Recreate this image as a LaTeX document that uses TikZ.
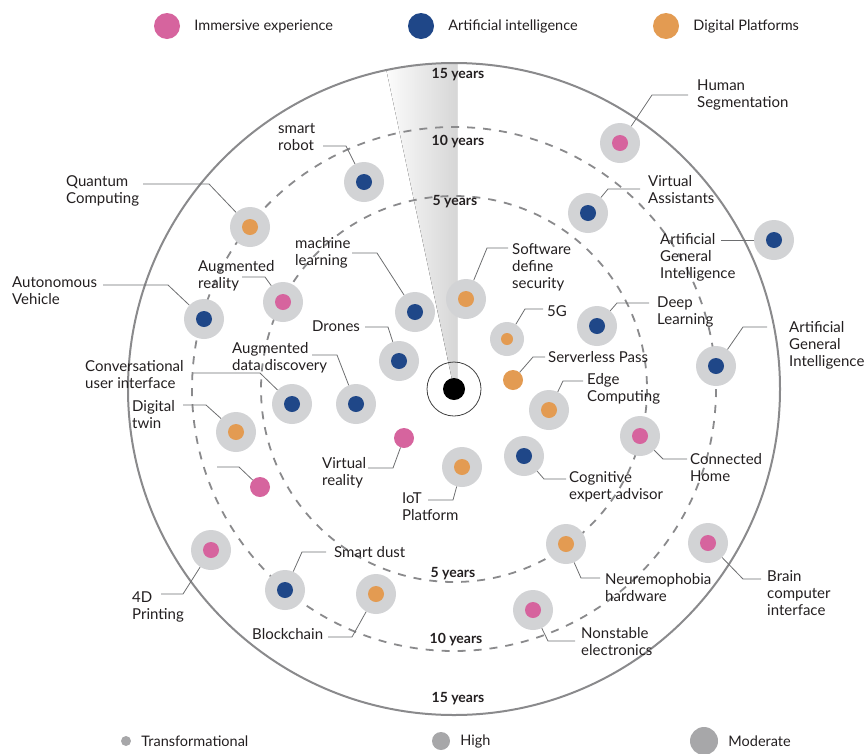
\documentclass[tikz,border=0pt]{standalone}
\usepackage{fontspec}
\setmainfont{Lato}
\usetikzlibrary{positioning}

\definecolor{immersive}{HTML}{D6649E}
\definecolor{aiblue}{HTML}{1F4788}
\definecolor{platform}{HTML}{E39B52}
\definecolor{diskgray}{HTML}{D2D3D5}
\definecolor{ringgray}{HTML}{8A8A8C}
\definecolor{leadgray}{HTML}{6D6E70}
\definecolor{sizegray}{HTML}{A7A7A9}
\definecolor{ink}{HTML}{231F20}

\tikzset{
  disk/.style={circle,fill=diskgray,minimum size=40pt,inner sep=0pt},
  lbl/.style={anchor=north west,align=left,inner sep=0pt,text=ink,font=\fontsize{15}{17}\selectfont},
  legtext/.style={inner sep=0pt,text=ink,font=\fontsize{14.5}{17}\selectfont},
  leader/.style={draw=leadgray,line width=0.8pt},
  ring/.style={draw=ringgray,line width=1.8pt,dash pattern=on 8pt off 8pt},
  yrs/.style={inner sep=1pt,text=ink,font=\bfseries\fontsize{14}{16}\selectfont},
}

\begin{document}
\begin{tikzpicture}[x=1pt,y=-1pt]
\useasboundingbox (0,0) rectangle (867,753);
\coordinate (c) at (454,389);

% time wedge
\begin{scope}
\clip (c) circle (326);
\fill[left color=white,right color=black!16] (c) -- (380,40) -- (457,40) -- (457,389) -- cycle;
\end{scope}

% horizons
\draw[draw=ringgray,line width=2pt] (c) circle (326);
\draw[ring] (c) circle (262);
\draw[ring] (c) circle (193);
\draw[black!75,line width=0.8pt] (c) circle (27);
\fill[black] (c) circle (11);

\node[yrs] (y15t) at (458,75) {15 years};
\node[yrs] (y10t) at (458,142) {10 years};
\node[yrs] (y5t) at (455,202) {5 years};
\node[yrs] (y5b) at (453,574) {5 years};
\node[yrs] (y10b) at (456,640) {10 years};
\node[yrs] (y15b) at (458,699) {15 years};

% legend
\foreach \n/\x/\c/\t in {legim/167/immersive/Immersive experience,legai/421/aiblue/Artificial intelligence,legdp/666/platform/Digital Platforms}
{
\node[circle,fill=\c,minimum size=26pt,inner sep=0pt] (\n) at (\x,26) {};
\node[legtext,right=14pt of \n] {\t};
}
\foreach \n/\x/\s/\t in {legtr/126/10/Transformational,leghi/441/18/High,legmo/704/28/Moderate}
{
\node[circle,fill=sizegray,minimum size=\s pt,inner sep=0pt] (\n) at (\x,741) {};
\node[legtext,right=10pt of \n] {\t};
}

% technologies
\foreach \n/\x/\y/\c in {hs/620/143/immersive,va/588/213/aiblue,agia/774/240/aiblue,
  dl/597/326/aiblue,agib/716/366/aiblue,ch/640/436/immersive,ec/549/410/platform,
  sds/466/299/platform,ml/415/312/aiblue,dr/399/361/aiblue,add/356/404/aiblue,
  cui/292/404/aiblue,ar/283/302/immersive,av/204/319/aiblue,qc/250/227/platform,
  sr/364/182/aiblue,dt/236/432/platform,iot/462/467/platform,cea/524/456/aiblue,
  nh/566/544/platform,bci/708/543/immersive,ne/533/610/immersive,sd/285/590/aiblue,
  bc/376/594/platform,fd/211/550/immersive}
{
\node[disk] (\n) at (\x,\y) {};
\fill[\c] (\n) circle (8);
}
\node[disk,minimum size=34pt] (fg) at (507,339) {};
\fill[platform] (fg) circle (6);
\node[circle,fill=platform,minimum size=20pt,inner sep=0pt] (sp) at (513,380) {};
\node[circle,fill=immersive,minimum size=20pt,inner sep=0pt] (vr) at (404,438) {};
\node[circle,fill=immersive,minimum size=20pt,inner sep=0pt] (pd) at (260,487) {};

% leaders
\foreach \n/\bx/\by/\ex/\ey in {hs/652/95/688/95,va/608/189/640/189,dl/617/303/649/303,
  agib/743/327/767/327,ch/663/459/687/459,ec/563/381/583/381,sp/533/357/545/357,
  fg/525/309/543/309,sds/487/248/508/248,ml/377/253/352/253,dr/388/327/365/327,
  add/337/355/312/355,cui/260/373/193/373,ar/265/277/242/277,av/168/285/103/285,
  qc/209/184/143/184,sr/346/146/323/146,dt/206/405/183/405,pd/239/467/217/467,
  vr/393/468/368/468,iot/453/500/428/500,cea/544/479/566/479,nh/581/578/600/578,
  bci/743/579/761/579,ne/548/641/575/641,sd/302/552/326/552,bc/352/637/328/637,
  fd/183/594/161/594}
{
\draw[leader] (\n) -- (\bx,\by) -- (\ex,\ey);
}
\draw[leader] (agia) -- (721,240);

% labels
\node[lbl] (hs-l) at (697,80) {Human\\Segmentation};
\node[lbl] (va-l) at (648,175) {Virtual\\Assistants};
\node[lbl] (agia-l) at (660,233) {Artificial\\General\\Intelligence};
\node[lbl] (dl-l) at (657,297) {Deep\\Learning};
\node[lbl] (agib-l) at (789,321) {Artificial\\General\\Intelligence};
\node[lbl] (ch-l) at (690,453) {Connected\\Home};
\node[lbl] (ec-l) at (587,373) {Edge\\Computing};
\node[lbl] (sp-l) at (548,351) {Serverless Pass};
\node[lbl] (fg-l) at (547,305) {5G};
\node[lbl] (sds-l) at (512,243) {Software\\define\\security};
\node[lbl] (ml-l) at (295,237) {machine\\learning};
\node[lbl] (dr-l) at (312,321) {Drones};
\node[lbl] (add-l) at (232,342) {Augmented\\data discovery};
\node[lbl] (cui-l) at (85,360) {Conversational\\user interface};
\node[lbl] (ar-l) at (198,260) {Augmented\\reality};
\node[lbl] (av-l) at (12,277) {Autonomous\\Vehicle};
\node[lbl] (qc-l) at (66,175) {Quantum\\Computing};
\node[lbl] (sr-l) at (278,123) {smart\\robot};
\node[lbl] (dt-l) at (132,400) {Digital\\twin};
\node[lbl] (vr-l) at (322,457) {Virtual\\reality};
\node[lbl] (iot-l) at (402,493) {IoT\\Platform};
\node[lbl] (cea-l) at (569,471) {Cognitive\\expert advisor};
\node[lbl] (nh-l) at (605,573) {Neuremophobia\\hardware};
\node[lbl] (bci-l) at (767,570) {Brain\\computer\\interface};
\node[lbl] (ne-l) at (581,627) {Nonstable\\electronics};
\node[lbl] (sd-l) at (334,546) {Smart dust};
\node[lbl] (bc-l) at (252,628) {Blockchain};
\node[lbl] (fd-l) at (132,592) {4D\\Printing};
\end{tikzpicture}
\end{document}
